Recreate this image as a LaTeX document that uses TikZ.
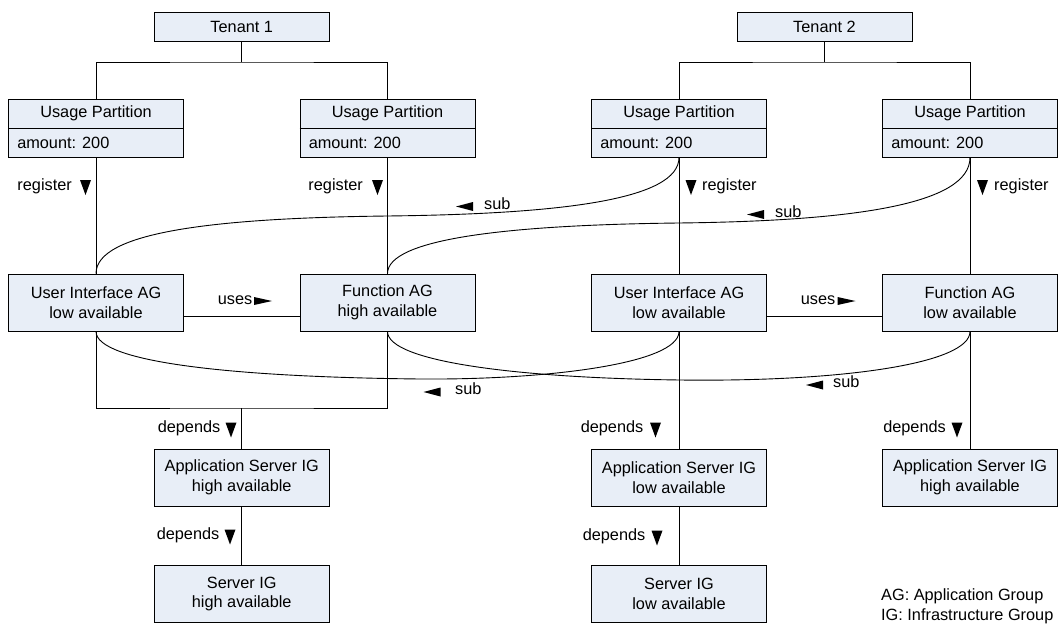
\documentclass[tikz,border=0pt]{standalone}
\usepackage{fontspec}
\setmainfont{Liberation Sans}
\definecolor{boxfill}{RGB}{232,238,247}
\newcommand\labelfont{\fontsize{16.3}{19.5}\selectfont}
% small black arrow heads used beside the connector labels
\newcommand\triDown[2]{\fill (#1,#2) ++(-5.5,-7.5) -- ++(11,0) -- ++(-5.5,15) -- cycle;}
\newcommand\triLeft[2]{\fill (#1,#2) ++(-8.5,0) -- ++(17,-4.5) -- ++(0,9) -- cycle;}
\newcommand\triRight[2]{\fill (#1,#2) ++(9,0) -- ++(-18,-4) -- ++(0,8) -- cycle;}
\tikzset{
  box/.style={draw=black, fill=boxfill, line width=0.9pt, minimum width=175pt,
    inner sep=0pt, align=center, font=\labelfont},
  agbox/.style={box, minimum height=57pt},
  lbl/.style={inner sep=0pt, font=\labelfont},
  link/.style={line width=0.9pt},
}
\begin{document}
\begin{tikzpicture}[x=1pt,y=-1pt]
\useasboundingbox (0,0) rectangle (1058,626);

% tenants
\node[box, minimum height=29pt] (t1) at (241.75,26.5) {Tenant 1};
\node[box, minimum height=29pt] (t2) at (824.5,26.5) {Tenant 2};

% usage partitions: title compartment over an attribute compartment
\foreach \n/\x in {1/96,2/387.5,3/679,4/970}{
  \node[box, minimum height=58pt] (up\n) at (\x,128) {};
  \draw[link] (up\n.west) -- (up\n.east);
  \node[lbl] (up\n t) at ([yshift=14.5pt]up\n.center) {Usage Partition};
  \node[lbl, anchor=west] (up\n a) at ([xshift=9pt,yshift=-14.5pt]up\n.west) {amount: 200};
}

% application groups
\node[agbox] (ui1) at (96,302.5) {User Interface AG\\low available};
\node[agbox] (f1) at (387.5,302.5) {Function AG\\high available};
\node[agbox] (ui2) at (679,302.5) {User Interface AG\\low available};
\node[agbox] (f2) at (970,302.5) {Function AG\\low available};

% infrastructure groups
\node[agbox] (as1) at (241.75,477.5) {Application Server IG\\high available};
\node[agbox] (as2) at (679,477.5) {Application Server IG\\low available};
\node[agbox] (as3) at (970,477.5) {Application Server IG\\high available};
\node[agbox] (s1) at (241.75,594) {Server IG\\high available};
\node[agbox] (s2) at (679,594) {Server IG\\low available};

% tenant trees
\coordinate (bar1) at (241.75,62);
\coordinate (bar2) at (824.5,62);
\draw[link] (t1.south) -- (bar1);
\draw[link] (up1.north) |- (bar1) -| (up2.north);
\draw[link] (t2.south) -- (bar2);
\draw[link] (up3.north) |- (bar2) -| (up4.north);

% register
\draw[link] (up1.south) -- (ui1.north);
\draw[link] (up2.south) -- (f1.north);
\draw[link] (up3.south) -- (ui2.north);
\draw[link] (up4.south) -- (f2.north);

% uses
\draw[link] ([yshift=-13.5pt]ui1.east) -- ([yshift=-13.5pt]f1.west);
\draw[link] ([yshift=-13.5pt]ui2.east) -- ([yshift=-13.5pt]f2.west);

% depends
\coordinate (br1) at (241.75,408);
\draw[link] (ui1.south) |- (br1) -| (f1.south);
\draw[link] (br1) -- (as1.north);
\draw[link] (as1.south) -- (s1.north);
\draw[link] (ui2.south) -- (as2.north);
\draw[link] (as2.south) -- (s2.north);
\draw[link] (f2.south) -- (as3.north);

% sub connectors between the tenants
\draw[link] (up3.south) .. controls (679,200) and (560,214) .. (387.5,216)
  .. controls (215,218) and (96,232) .. (ui1.north);
\draw[link] (up4.south) .. controls (970,205) and (851,221) .. (678.5,223)
  .. controls (506,225) and (387.5,239) .. (f1.north);
\draw[link] (ui1.south) .. controls (96,362) and (230,377) .. (420,379)
  .. controls (545,380) and (679,364) .. (ui2.south);
\draw[link] (f1.south) .. controls (387.5,362) and (520,378) .. (680,380)
  .. controls (840,382) and (970,364) .. (f2.south);

% connector labels
\node[lbl, anchor=mid east] (reg1) at (72,188) {register};
\triDown{85.5}{187.5}
\node[lbl, anchor=mid east] (reg2) at (363,188) {register};
\triDown{377.5}{187.5}
\triDown{691}{187.5}
\node[lbl, anchor=mid west] (reg3) at (702,188) {register};
\triDown{982.5}{187.5}
\node[lbl, anchor=mid west] (reg4) at (994,188) {register};

\node[lbl, anchor=mid east] (uses1) at (252.5,302) {uses};
\triRight{263}{301}
\node[lbl, anchor=mid east] (uses2) at (835.5,302) {uses};
\triRight{846.5}{301}

\triLeft{464.5}{206.5}
\node[lbl, anchor=mid west] (subA) at (484,207) {sub};
\triLeft{755.5}{214.5}
\node[lbl, anchor=mid west] (subB) at (775,215) {sub};
\triLeft{432}{392}
\node[lbl, anchor=mid west] (subC) at (455,392) {sub};
\triLeft{814.5}{385}
\node[lbl, anchor=mid west] (subD) at (833,385) {sub};

\node[lbl, anchor=mid east] (dep1) at (220.5,430) {depends};
\triDown{231}{430}
\node[lbl, anchor=mid east] (dep2) at (219.5,537) {depends};
\triDown{230}{537}
\node[lbl, anchor=mid east] (dep3) at (643.5,430) {depends};
\triDown{655.5}{430}
\node[lbl, anchor=mid east] (dep4) at (645.5,538) {depends};
\triDown{657}{538}
\node[lbl, anchor=mid east] (dep5) at (946,430) {depends};
\triDown{957}{430}

% legend
\node[lbl, anchor=base west] (legAG) at (881,600) {AG: Application Group};
\node[lbl, anchor=base west] (legIG) at (881,620) {IG: Infrastructure Group};
\end{tikzpicture}
\end{document}
